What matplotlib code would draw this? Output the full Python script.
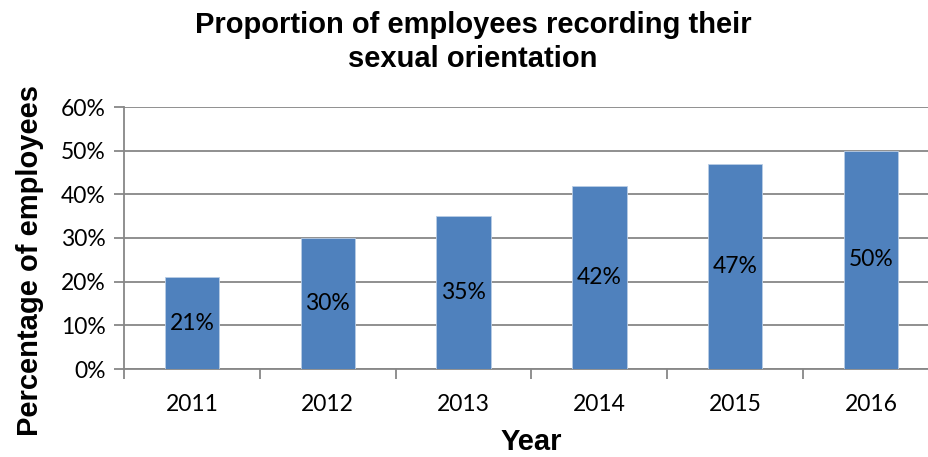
import matplotlib
matplotlib.use("Agg")
import matplotlib.pyplot as plt
from matplotlib.ticker import PercentFormatter

# data
years = ["2011", "2012", "2013", "2014", "2015", "2016"]
share = [21, 30, 35, 42, 47, 50]
y_ticks = [0, 10, 20, 30, 40, 50, 60]

BAR = "#4F81BD"
GRID = "#878787"
BODY_FONT = ["Lato", "DejaVu Sans"]
HEAD_FONT = ["Liberation Sans", "DejaVu Sans"]

fig = plt.figure(figsize=(9.29, 4.57), dpi=100)
ax = fig.add_axes([124 / 929, 88 / 457, 815 / 929, 262 / 457])

x = range(len(years))
ax.bar(x, share, width=0.4, color=BAR, edgecolor="#B9CDE5", linewidth=0.6, zorder=3)

for xi, v in zip(x, share):
    ax.text(xi, v / 2, f"{v}%", ha="center", va="center", fontsize=16.5,
            family=BODY_FONT, color="black", zorder=4)

ax.set_xlim(-0.5, len(years) - 0.5)
ax.set_ylim(0, 60)
ax.set_yticks(y_ticks)
ax.yaxis.set_major_formatter(PercentFormatter(decimals=0))
ax.set_xticks([i - 0.5 for i in range(len(years) + 1)], minor=False)
ax.set_xticklabels([])
ax.set_xticks(list(x), minor=True)
ax.set_xticklabels(years, minor=True)

ax.grid(axis="y", color=GRID, linewidth=1.3, zorder=0)
for s in ["top", "right"]:
    ax.spines[s].set_visible(False)
for s in ["left", "bottom"]:
    ax.spines[s].set_color(GRID)
    ax.spines[s].set_linewidth(1.3)

ax.tick_params(axis="y", which="major", length=7, width=1.3, color=GRID, pad=6)
ax.tick_params(axis="x", which="major", length=7, width=1.3, color=GRID, direction="out")
ax.tick_params(axis="x", which="minor", length=0, pad=18)
for lab in ax.get_yticklabels() + ax.get_xticklabels(minor=True):
    lab.set_family(BODY_FONT)
    lab.set_fontsize(16.5)

ax.set_xlabel("Year", fontsize=21, fontweight="bold", family=HEAD_FONT)
ax.xaxis.set_label_coords(0.5, -(442 - 369) / 262)
ax.xaxis.label.set_va("center")
ax.set_ylabel("Percentage of employees", fontsize=21, fontweight="bold", family=HEAD_FONT)
ax.yaxis.set_label_coords(-(124 - 30) / 815, (369 - 261) / 262)
ax.yaxis.label.set_va("center")

fig.text(473 / 929, 1 - 42 / 457, "Proportion of employees recording their\nsexual orientation",
         ha="center", va="center", fontsize=21, fontweight="bold",
         family=HEAD_FONT, linespacing=1.3)

fig.savefig("out.png", dpi=100)
